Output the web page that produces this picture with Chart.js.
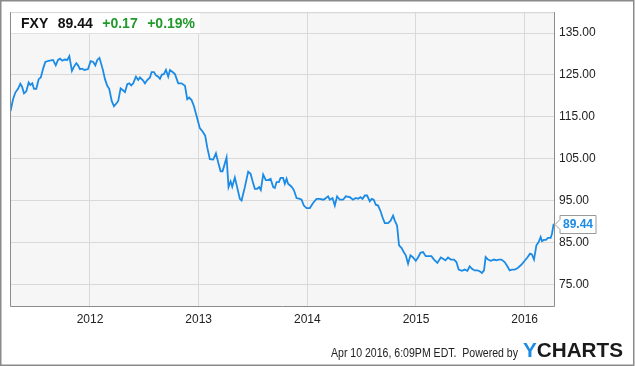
<!DOCTYPE html>
<html>
<head>
<meta charset="utf-8">
<script src="https://cdn.jsdelivr.net/npm/chart.js@4.4.1/dist/chart.umd.min.js"></script>
<style>
    html, body { margin: 0; padding: 0; background: #fff; }
    #wrap { width: 635px; height: 366px; position: relative; }
</style>
</head>
<body>
<div id="wrap"><canvas id="chart" width="635" height="366"></canvas></div>
<script>
// Header quote
const symbol = "FXY";
const lastPrice = "89.44";
const change = "+0.17";
const changePct = "+0.19%";
const stamp = "Apr 10 2016, 6:09PM EDT.  Powered by";

// Axis ticks
const yearTicks = [2012, 2013, 2014, 2015, 2016];
const priceTicks = [75, 85, 95, 105, 115, 125, 135];

// Dates as decimal years (Apr 2011 .. Apr 2016)
const dates = [
    2011.269, 2011.292, 2011.313, 2011.338, 2011.359, 2011.375, 2011.393, 2011.414, 2011.436, 2011.451,
    2011.469, 2011.485, 2011.506, 2011.528, 2011.547, 2011.571, 2011.589, 2011.620, 2011.660, 2011.685,
    2011.706, 2011.724, 2011.745, 2011.767, 2011.791, 2011.810, 2011.834, 2011.853, 2011.874, 2011.890,
    2011.908, 2011.926, 2011.951, 2011.982, 2012.006, 2012.030, 2012.049, 2012.067, 2012.087, 2012.117,
    2012.138, 2012.159, 2012.177, 2012.200, 2012.221, 2012.246, 2012.260, 2012.282, 2012.301, 2012.322,
    2012.343, 2012.361, 2012.380, 2012.398, 2012.423, 2012.444, 2012.460, 2012.485, 2012.506, 2012.527,
    2012.552, 2012.567, 2012.589, 2012.607, 2012.628, 2012.644, 2012.662, 2012.680, 2012.699, 2012.720,
    2012.736, 2012.760, 2012.782, 2012.812, 2012.843, 2012.874, 2012.895, 2012.913, 2012.935, 2012.956,
    2012.981, 2013.011, 2013.036, 2013.060, 2013.079, 2013.103, 2013.134, 2013.159, 2013.180, 2013.202,
    2013.220, 2013.257, 2013.275, 2013.294, 2013.309, 2013.333, 2013.354, 2013.379, 2013.395, 2013.425,
    2013.456, 2013.478, 2013.502, 2013.517, 2013.538, 2013.557, 2013.572, 2013.594, 2013.618, 2013.640,
    2013.662, 2013.686, 2013.701, 2013.717, 2013.738, 2013.754, 2013.777, 2013.793, 2013.809, 2013.823,
    2013.855, 2013.876, 2013.901, 2013.931, 2013.947, 2013.968, 2013.993, 2014.023, 2014.053, 2014.085,
    2014.115, 2014.145, 2014.161, 2014.191, 2014.207, 2014.232, 2014.253, 2014.274, 2014.299, 2014.329,
    2014.354, 2014.391, 2014.421, 2014.446, 2014.467, 2014.489, 2014.508, 2014.529, 2014.550, 2014.575,
    2014.593, 2014.611, 2014.630, 2014.651, 2014.673, 2014.692, 2014.713, 2014.743, 2014.765, 2014.789,
    2014.805, 2014.826, 2014.844, 2014.866, 2014.887, 2014.906, 2014.927, 2014.949, 2014.973, 2014.998,
    2015.019, 2015.041, 2015.065, 2015.090, 2015.120, 2015.142, 2015.166, 2015.197, 2015.228, 2015.249,
    2015.271, 2015.295, 2015.320, 2015.350, 2015.372, 2015.393, 2015.423, 2015.448, 2015.473, 2015.494,
    2015.515, 2015.540, 2015.565, 2015.586, 2015.607, 2015.626, 2015.641, 2015.663, 2015.687, 2015.718,
    2015.740, 2015.761, 2015.786, 2015.816, 2015.841, 2015.862, 2015.883, 2015.908, 2015.933, 2015.954,
    2015.975, 2016.000, 2016.025, 2016.049, 2016.067, 2016.086, 2016.108, 2016.129, 2016.147, 2016.159,
    2016.177, 2016.196, 2016.214, 2016.239, 2016.251, 2016.267
];

// FXY closing prices
const prices = [
    116.4, 119.2, 120.8, 121.7, 122.9, 122.2, 120.6, 121.1, 123.2, 122.6,
    123.0, 121.7, 121.7, 124.0, 124.4, 126.7, 128.1, 128.4, 128.6, 127.3,
    128.6, 128.9, 128.4, 128.7, 128.6, 129.5, 126.0, 127.0, 127.8, 127.3,
    126.4, 126.5, 126.2, 126.4, 128.3, 128.1, 127.3, 128.6, 129.1, 126.4,
    124.0, 122.4, 121.7, 118.8, 117.5, 118.3, 118.8, 121.8, 121.4, 120.9,
    122.8, 123.0, 122.5, 123.0, 124.6, 123.8, 124.4, 123.8, 123.0, 123.8,
    124.4, 125.7, 125.7, 124.9, 124.6, 124.1, 125.1, 125.2, 126.2, 124.6,
    126.2, 125.7, 125.2, 123.0, 123.0, 122.4, 119.2, 119.6, 119.0, 117.6,
    115.2, 112.3, 111.5, 110.5, 107.7, 104.9, 104.8, 106.3, 104.1, 102.0,
    102.0, 105.3, 98.2, 99.6, 98.3, 100.5, 98.2, 95.4, 95.0, 98.2,
    101.9, 101.4, 99.1, 97.8, 97.8, 98.2, 97.5, 101.2, 99.9, 99.9,
    100.2, 98.2, 98.0, 99.4, 99.4, 100.4, 100.4, 99.0, 100.2, 99.0,
    98.3, 97.5, 95.6, 95.4, 95.2, 93.8, 93.2, 93.2, 94.4, 95.4,
    95.4, 95.2, 95.4, 96.0, 95.2, 95.6, 93.8, 96.0, 95.2, 95.2,
    96.0, 95.8, 95.2, 95.6, 95.4, 95.8, 95.4, 96.2, 96.2, 94.8,
    95.4, 95.2, 94.0, 93.8, 92.5, 91.0, 89.6, 89.6, 90.1, 91.4,
    90.2, 89.0, 84.3, 83.7, 82.7, 81.9, 79.9, 81.9, 81.4, 80.6,
    81.4, 82.5, 82.7, 81.7, 81.7, 81.7, 80.9, 80.1, 81.4, 81.1,
    80.7, 81.4, 80.9, 80.9, 80.3, 78.5, 78.2, 78.5, 78.2, 79.3,
    78.7, 78.3, 78.3, 78.1, 77.7, 78.3, 81.5, 80.9, 80.6, 80.9,
    80.7, 80.9, 80.9, 80.3, 79.3, 78.3, 78.5, 78.5, 78.8, 79.3,
    79.8, 80.6, 81.4, 82.3, 82.1, 80.9, 84.3, 85.1, 86.3, 85.3,
    85.6, 85.6, 86.1, 86.1, 87.0, 89.44
];

const lineColor = "#1b8be6";
const fontFamily = "'Liberation Sans', Arial, sans-serif";

// Draw text squeezed/stretched to a target width
function fitText(ctx, text, x, y, width) {
    const w = ctx.measureText(text).width;
    ctx.save();
    ctx.translate(x, y);
    ctx.scale(width / w, 1);
    ctx.fillText(text, 0, 0);
    ctx.restore();
}

const framePlugin = {
    id: "frame",
    beforeDraw(chart) {
        const { ctx, chartArea: a } = chart;
        ctx.save();
        ctx.fillStyle = "#ffffff";
        ctx.fillRect(0, 0, chart.width, chart.height);
        ctx.fillStyle = "#f6f6f6";
        ctx.fillRect(a.left, a.top, a.right - a.left, a.bottom - a.top);
        ctx.restore();
    },
    afterDraw(chart) {
        const { ctx, chartArea: a } = chart;
        ctx.save();

        // Plot border
        ctx.lineWidth = 1;
        ctx.strokeStyle = "#d0d0d0";
        ctx.beginPath();
        ctx.moveTo(a.left, a.top + 0.5);
        ctx.lineTo(a.right, a.top + 0.5);
        ctx.stroke();
        ctx.strokeStyle = "#8c8c8c";
        ctx.beginPath();
        ctx.moveTo(a.left + 0.5, a.top);
        ctx.lineTo(a.left + 0.5, a.bottom + 0.5);
        ctx.lineTo(a.right + 0.5, a.bottom + 0.5);
        ctx.lineTo(a.right + 0.5, a.top);
        ctx.stroke();

        // Outer border
        ctx.strokeStyle = "#8a8a8a";
        ctx.lineWidth = 1.5;
        ctx.strokeRect(0.75, 0.75, chart.width - 2, chart.height - 1.5);

        // Quote header
        ctx.fillStyle = "#ffffff";
        ctx.fillRect(a.left + 1, a.top + 1, 189, 20);
        ctx.font = "bold 14px " + fontFamily;
        ctx.textBaseline = "alphabetic";
        ctx.textAlign = "left";
        let x = 21;
        const parts = [[symbol, "#111"], [lastPrice, "#111"], [change, "#22992b"], [changePct, "#22992b"]];
        parts.forEach(([t, c]) => {
            ctx.fillStyle = c;
            ctx.fillText(t, x, 28);
            x += ctx.measureText(t).width + 9.5;
        });

        // Last price tag
        const yScale = chart.scales.y;
        const py = Math.round(yScale.getPixelForValue(prices[prices.length - 1])) + 0.5;
        const bx = a.right + 6;
        ctx.beginPath();
        ctx.moveTo(bx, py - 9);
        ctx.lineTo(bx + 36, py - 9);
        ctx.lineTo(bx + 36, py + 9);
        ctx.lineTo(bx, py + 9);
        ctx.lineTo(bx, py + 5);
        ctx.lineTo(bx - 5, py);
        ctx.lineTo(bx, py - 5);
        ctx.closePath();
        ctx.fillStyle = "#ffffff";
        ctx.fill();
        ctx.lineWidth = 1;
        ctx.strokeStyle = "#9a9a9a";
        ctx.stroke();
        ctx.fillStyle = lineColor;
        ctx.font = "bold 12px " + fontFamily;
        ctx.textAlign = "center";
        ctx.textBaseline = "middle";
        ctx.fillText(lastPrice, bx + 18, py + 0.5);

        // Footer
        ctx.textAlign = "left";
        ctx.textBaseline = "alphabetic";
        ctx.fillStyle = "#222";
        ctx.font = "12px " + fontFamily;
        fitText(ctx, stamp, 331, 357, 187);
        ctx.font = "bold 20px " + fontFamily;
        ctx.fillStyle = "#1b8be6";
        const yw = ctx.measureText("Y").width;
        const cw = ctx.measureText("CHARTS").width;
        const sx = 100 / (yw + cw);
        ctx.save();
        ctx.translate(523, 357);
        ctx.scale(sx, 1);
        ctx.fillText("Y", 0, 0);
        ctx.fillStyle = "#1a1a1a";
        ctx.fillText("CHARTS", yw, 0);
        ctx.restore();

        ctx.restore();
    }
};

const ctx = document.getElementById("chart");

new Chart(ctx, {
    type: "line",
    data: {
        datasets: [{
            data: dates.map((d, i) => ({ x: d, y: prices[i] })),
            borderColor: lineColor,
            borderWidth: 1.8,
            pointRadius: 0,
            tension: 0,
            fill: false
        }]
    },
    options: {
        responsive: false,
        animation: false,
        events: [],
        layout: { padding: { left: 10, top: 11, right: 0, bottom: 0 } },
        plugins: {
            legend: { display: false },
            tooltip: { enabled: false }
        },
        scales: {
            x: {
                type: "linear",
                min: 2011.264,
                max: 2016.27,
                afterBuildTicks: (scale) => { scale.ticks = yearTicks.map(v => ({ value: v })); },
                afterFit: (scale) => { scale.height = 60; },
                grid: { color: "#d9d9d9", lineWidth: 1, drawTicks: false },
                border: { display: false },
                ticks: {
                    autoSkip: false,
                    maxRotation: 0,
                    padding: 6,
                    color: "#222",
                    font: { family: fontFamily, size: 12 },
                    callback: (v) => String(v)
                }
            },
            y: {
                position: "right",
                min: 69.8,
                max: 140,
                afterBuildTicks: (scale) => { scale.ticks = priceTicks.map(v => ({ value: v })); },
                afterFit: (scale) => { scale.width = 81; },
                grid: { color: "#d9d9d9", lineWidth: 1, drawTicks: false },
                border: { display: false },
                ticks: {
                    autoSkip: false,
                    padding: 5,
                    color: "#222",
                    font: { family: fontFamily, size: 12 },
                    callback: (v) => Number(v).toFixed(2)
                }
            }
        }
    },
    plugins: [framePlugin]
});
</script>
</body>
</html>
